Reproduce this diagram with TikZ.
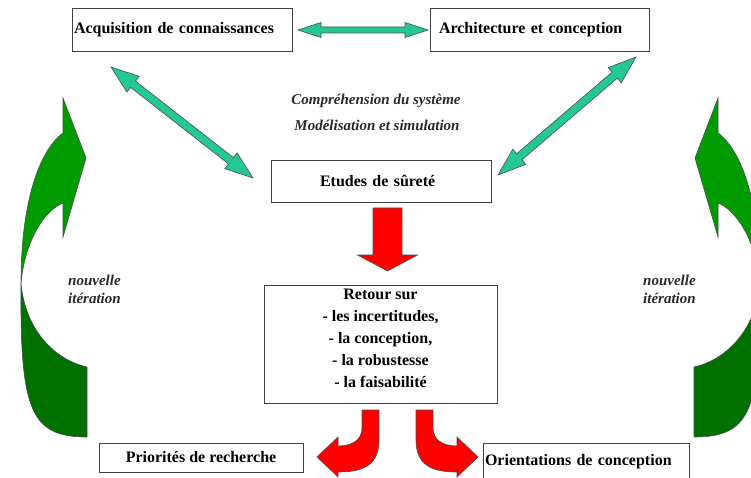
\documentclass[tikz,border=0pt]{standalone}
\usepackage{fontspec}
\setmainfont{Liberation Serif}
\usetikzlibrary{calc}
\definecolor{tealfill}{RGB}{36,200,150}
\definecolor{greenlight}{RGB}{0,155,0}
\definecolor{greendark}{RGB}{0,112,0}
\definecolor{redfill}{RGB}{255,0,0}
\definecolor{notegray}{RGB}{40,40,40}
% block double arrow between two named coordinates: #1,#2 tips; #3 head length; #4 head half width; #5 shaft half width
\newcommand\blockdbl[5]{%
  \path ($(#1)!#3!(#2)$) coordinate (h1) ($(#2)!#3!(#1)$) coordinate (h2);
  \filldraw[tealarrow] (#1) -- ($(h1)!#4!90:(#2)$) -- ($(h1)!#5!90:(#2)$)
    -- ($(h2)!#5!-90:(#1)$) -- ($(h2)!#4!-90:(#1)$) -- (#2)
    -- ($(h2)!#4!90:(#1)$) -- ($(h2)!#5!90:(#1)$)
    -- ($(h1)!#5!-90:(#2)$) -- ($(h1)!#4!-90:(#2)$) -- cycle;}
\begin{document}
\begin{tikzpicture}[x=1pt,y=-1pt,
  box/.style={draw=black!75, line width=0.8pt, fill=white, inner sep=0pt,
    font=\bfseries\fontsize{16}{22}\selectfont},
  note/.style={font=\bfseries\itshape\fontsize{15}{18}\selectfont, text=notegray, inner sep=0pt},
  tealarrow/.style={fill=tealfill, draw=black!70, line width=0.6pt, line join=miter},
  redarrow/.style={fill=redfill, draw=black!70, line width=0.6pt},
  greenup/.style={fill=greenlight, draw=black!70, line width=0.6pt},
  greenlow/.style={fill=greendark, draw=black!70, line width=0.6pt}]
\useasboundingbox (0,0) rectangle (751,478);
\clip (0,0) rectangle (751,478);

% boxes
\node[box, minimum width=220pt, minimum height=43pt, text width=216pt, align=left] (acq) at (182,29.5) {Acquisition de connaissances};
\node[box, minimum width=219pt, minimum height=43pt, text width=201pt, align=left] (arch) at (539.5,29.5) {Architecture et conception};
\node[box, minimum width=220pt, minimum height=42pt, text width=122pt, align=left] (etudes) at (381,181) {Etudes de sûreté};
\node[box, minimum width=233pt, minimum height=118pt, align=center] (retour) at (380.5,344)
  {Retour sur\\- les incertitudes,\\- la conception,\\- la robustesse\\ - la faisabilité\rule[-11pt]{0pt}{0pt}};
\node[box, minimum width=204pt, minimum height=29pt, align=center] (prio) at (201,457.5) {Priorités de recherche};
\node[box, minimum width=206pt, minimum height=37pt, text width=202pt, align=left] (orient) at (586,461.5) {Orientations de conception};

% notes
\node[note, align=center] (comp) at (376,101) {Compréhension du système};
\node[note, align=center] (model) at (377,125) {Modélisation et simulation};
\node[note, align=left, anchor=west] (itL) at (68,289) {nouvelle\\itération};
\node[note, align=left, anchor=west] (itR) at (643,289) {nouvelle\\itération};

% teal double arrows
\coordinate (t1) at (298,30);  \coordinate (t2) at (428,30);
\coordinate (l1) at (111,67);  \coordinate (l2) at (253,178);
\coordinate (r1) at (636,57);  \coordinate (r2) at (498,175);
\blockdbl{t1}{t2}{23pt}{7.5pt}{3pt}
\blockdbl{l1}{l2}{28pt}{10pt}{4pt}
\blockdbl{r1}{r2}{28pt}{10pt}{4pt}

% red straight arrow from etudes to retour
\coordinate (rd) at (387.5,208);
\begin{scope}[shift={(rd)}]
\filldraw[redarrow] (-14.5,0) -- (14.5,0) -- (14.5,47) -- (30,47) -- (0,63) -- (-30,47) -- (-14.5,47) -- cycle;
\end{scope}

% red curved arrows from retour to the bottom boxes
\coordinate (rl) at (370.5,410);
\begin{scope}[shift={(rl)}]
\filldraw[redarrow] (8.5,0) -- (8.5,30) .. controls (8.5,56) and (-8.5,62) .. (-32.5,62)
  -- (-32.5,67) -- (-53.5,47) -- (-32.5,27) -- (-32.5,36)
  .. controls (-18.5,36) and (-8.5,30) .. (-8.5,18) -- (-8.5,0) -- cycle;
\end{scope}
\coordinate (rr) at (424.5,410);
\begin{scope}[shift={(rr)}, xscale=-1]
\filldraw[redarrow] (8.5,0) -- (8.5,30) .. controls (8.5,56) and (-8.5,62) .. (-32.5,62)
  -- (-32.5,67) -- (-53.5,47) -- (-32.5,27) -- (-32.5,36)
  .. controls (-18.5,36) and (-8.5,30) .. (-8.5,18) -- (-8.5,0) -- cycle;
\end{scope}

% green curved arrows (new iteration)
\def\greenshape{%
  \filldraw[greenlow] (21,283) .. controls (20,410) and (30,437) .. (87,437)
    -- (87,367) .. controls (55,360) and (25,330) .. (21,283) -- cycle;
  \filldraw[greenup] (21,283) .. controls (21,200) and (40,150) .. (63,133)
    -- (63,98) -- (86,158) -- (63,237) -- (63,203)
    .. controls (45,210) and (25,240) .. (21,283) -- cycle;}
\greenshape
\begin{scope}[shift={(781,0)}, xscale=-1]
\greenshape
\end{scope}
\end{tikzpicture}
\end{document}
